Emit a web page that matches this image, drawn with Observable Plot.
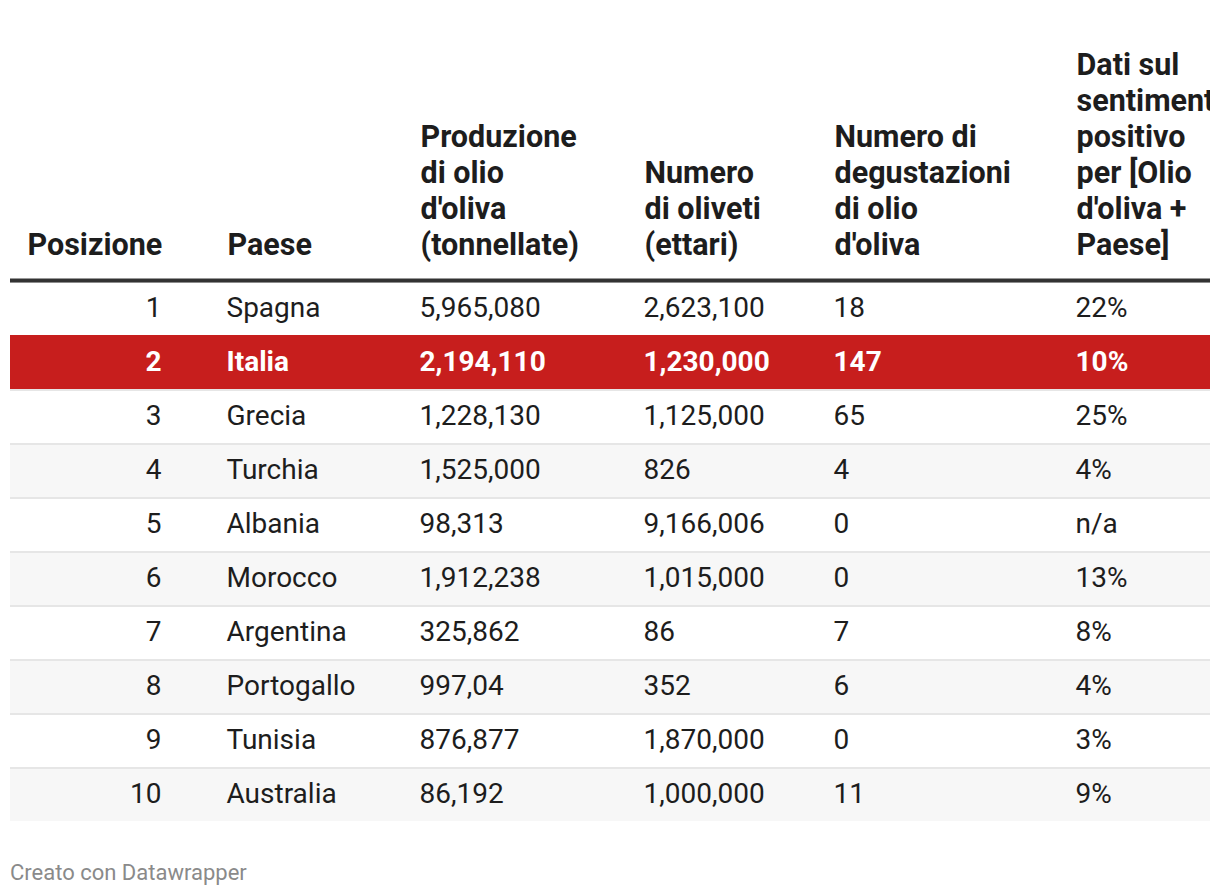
<!DOCTYPE html>
<html>
<head>
<meta charset="utf-8">
<script src="https://cdn.jsdelivr.net/npm/d3@7"></script>
<script src="https://cdn.jsdelivr.net/npm/@observablehq/plot@0.6"></script>
<style>
  html, body { margin: 0; padding: 0; background: #fff; }
  #chart { margin-left: 10px; width: 1200px; }
  #chart svg { overflow: hidden; display: block; }
  #footer { margin: 30px 0 0 10px; font-family: Roboto, sans-serif; font-size: 22px; color: #8a8a8a; line-height: 26px; }
</style>
</head>
<body>
<div id="chart"></div>
<div id="footer">Creato con Datawrapper</div>
<script>
// ---- data ----
const posizioni = [1, 2, 3, 4, 5, 6, 7, 8, 9, 10];
const paesi = ["Spagna", "Italia", "Grecia", "Turchia", "Albania", "Morocco", "Argentina", "Portogallo", "Tunisia", "Australia"];
const produzione = ["5,965,080", "2,194,110", "1,228,130", "1,525,000", "98,313", "1,912,238", "325,862", "997,04", "876,877", "86,192"];
const oliveti = ["2,623,100", "1,230,000", "1,125,000", "826", "9,166,006", "1,015,000", "86", "352", "1,870,000", "1,000,000"];
const degustazioni = [18, 147, 65, 4, 0, 0, 7, 6, 0, 11];
const sentimento = ["22%", "10%", "25%", "4%", "n/a", "13%", "8%", "4%", "3%", "9%"];
const intestazioni = [
  "Posizione",
  "Paese",
  "Produzione\ndi olio\nd'oliva\n(tonnellate)",
  "Numero\ndi oliveti\n(ettari)",
  "Numero di\ndegustazioni\ndi olio\nd'oliva",
  "Dati sul\nsentimento\npositivo\nper [Olio\nd'oliva +\nPaese]"
];
const evidenziato = "Italia";

// ---- table built from arrays ----
const rows = posizioni.map((p, i) => ({
  rank: p,
  cells: [String(p), paesi[i], produzione[i], oliveti[i], String(degustazioni[i]), sentimento[i]]
}));

// column layout (horizontal position of each column, header & values)
const colLayout = [
  {hx: 17, vx: 151, anchor: "end"},
  {hx: 217, vx: 216, anchor: "start"},
  {hx: 410, vx: 409, anchor: "start"},
  {hx: 634, vx: 633, anchor: "start"},
  {hx: 824, vx: 823, anchor: "start"},
  {hx: 1066, vx: 1065, anchor: "start"}
];

const RED = "#c71e1d";
const isHi = d => paesi[d.rank - 1] === evidenziato;

const marks = [
  // separator layer
  Plot.barX(rows, {x1: 0, x2: 1200, y: "rank", fill: d => isHi(d) ? RED : "#e6e6e6"}),
  // row background
  Plot.barX(rows, {x1: 0, x2: 1200, y: "rank", insetTop: 2,
    fill: d => isHi(d) ? RED : (d.rank % 2 === 0 ? "#f7f7f7" : "#ffffff")}),
  // header rule
  Plot.frame({anchor: "top", stroke: "#333333", strokeWidth: 4, dy: -1})
];

colLayout.forEach((c, j) => {
  marks.push(Plot.text([intestazioni[j]], {
    x: c.hx, frameAnchor: "top", text: d => d, textAnchor: "start",
    lineAnchor: "bottom", lineHeight: 1.18, dy: -27,
    fontSize: 30.5, fontWeight: "bold", fill: "#1d1d1d"
  }));
  marks.push(Plot.text(rows.filter(d => !isHi(d)), {
    x: c.vx, y: "rank", text: d => d.cells[j], textAnchor: c.anchor,
    fontSize: 28, fill: "#1d1d1d"
  }));
  marks.push(Plot.text(rows.filter(isHi), {
    x: c.vx, y: "rank", text: d => d.cells[j], textAnchor: c.anchor,
    fontSize: 28, fontWeight: "bold", fill: "#ffffff"
  }));
});

const chart = Plot.plot({
  width: 1200,
  height: 830,
  marginTop: 281,
  marginBottom: 9,
  marginLeft: 0,
  marginRight: 0,
  style: {fontFamily: "Roboto, sans-serif", background: "#fff", overflow: "hidden"},
  x: {domain: [0, 1200], axis: null},
  y: {type: "band", domain: posizioni, padding: 0, axis: null},
  marks
});
document.getElementById("chart").appendChild(chart);
</script>
</body>
</html>
